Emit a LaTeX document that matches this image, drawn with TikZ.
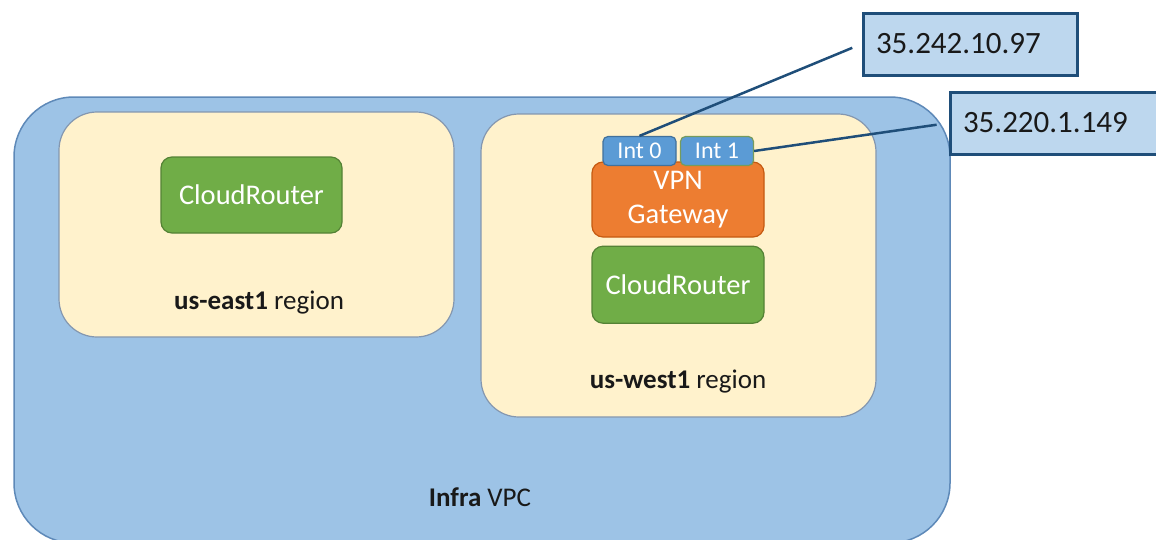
\documentclass[tikz,border=0pt]{standalone}
\usepackage{fontspec}
\setmainfont{Carlito}
\usetikzlibrary{positioning}

\definecolor{vpcfill}{HTML}{9DC3E6}
\definecolor{vpcline}{HTML}{5E89B8}
\definecolor{regfill}{HTML}{FFF2CC}
\definecolor{regline}{HTML}{8497B0}
\definecolor{crfill}{HTML}{70AD47}
\definecolor{crline}{HTML}{548235}
\definecolor{gwfill}{HTML}{ED7D31}
\definecolor{gwline}{HTML}{C55A11}
\definecolor{intfill}{HTML}{5B9BD5}
\definecolor{intline}{HTML}{41719C}
\definecolor{ipfill}{HTML}{BDD7EE}
\definecolor{ipline}{HTML}{1F4E79}

\begin{document}
\begin{tikzpicture}[x=1pt,y=-1pt,
        VpcCfg/.style={
            draw=vpcline, fill=vpcfill, line width=1.5pt,
            rounded corners=60pt, minimum width=936pt, minimum height=446pt
        },
        RegionCfg/.style={
            draw=regline, fill=regfill, line width=1.2pt,
            rounded corners=38pt, minimum width=395pt
        },
        BoxCfg/.style={
            line width=1.2pt, rounded corners=11pt, text=white, align=center,
            font=\fontsize{28.5}{34}\selectfont, inner sep=0pt
        },
        RouterCfg/.style={BoxCfg, draw=crline, fill=crfill},
        GwCfg/.style={BoxCfg, draw=gwline, fill=gwfill, minimum width=172pt, minimum height=75pt},
        IntCfg/.style={
            fill=intfill, line width=1.2pt, rounded corners=5pt, text=white,
            font=\fontsize{24}{28}\selectfont, inner sep=0pt, minimum height=29pt
        },
        IpCfg/.style={
            draw=ipline, fill=ipfill, line width=3pt, align=left,
            font=\fontsize{31}{36}\selectfont, text=black!90,
            inner xsep=13pt, minimum height=62pt
        },
        LabelCfg/.style={font=\fontsize{27}{32}\selectfont, text=black!90},
        Link/.style={draw=ipline, line width=2.5pt}
    ]

    \useasboundingbox (0,0) rectangle (1156,539);

    %VPC
    \node[VpcCfg] (vpc) at (482,320) {};
    \node[LabelCfg] (vpclbl) at (480,497) {\textbf{Infra} VPC};

    %regions
    \node[RegionCfg, minimum height=225pt] (east) at (256.5,224.5) {};
    \node[LabelCfg] (eastlbl) at (259,303) {\textbf{us-east1} region};
    \node[RegionCfg, minimum height=303pt] (west) at (678.5,265.5) {};
    \node[LabelCfg] (westlbl) at (678,382) {\textbf{us-west1} region};

    %routers and gateway
    \node[RouterCfg, minimum width=181pt, minimum height=76pt] (creast) at (251.5,195) {CloudRouter};
    \node[GwCfg] (gw) at (678,199.5) {VPN\\Gateway};
    \node[RouterCfg, minimum width=172pt, minimum height=77pt, below=8pt of gw] (crwest) {CloudRouter};

    %interfaces
    \node[IntCfg, draw=intline, minimum width=73pt] (int0) at (639.5,151) {Int 0};
    \node[IntCfg, draw=crline!80, minimum width=73pt] (int1) at (717,151) {Int 1};

    %addresses
    \node[IpCfg, text width=188pt] (ip0) at (970,44) {35.242.10.97};
    \node[IpCfg, text width=204pt] (ip1) at (1065,123) {35.220.1.149};

    %connections
    \draw[Link, shorten >=10pt] (int0.north) -- (ip0.west);
    \draw[Link, shorten >=12pt] (int1.east) -- (ip1.west);

\end{tikzpicture}
\end{document}
